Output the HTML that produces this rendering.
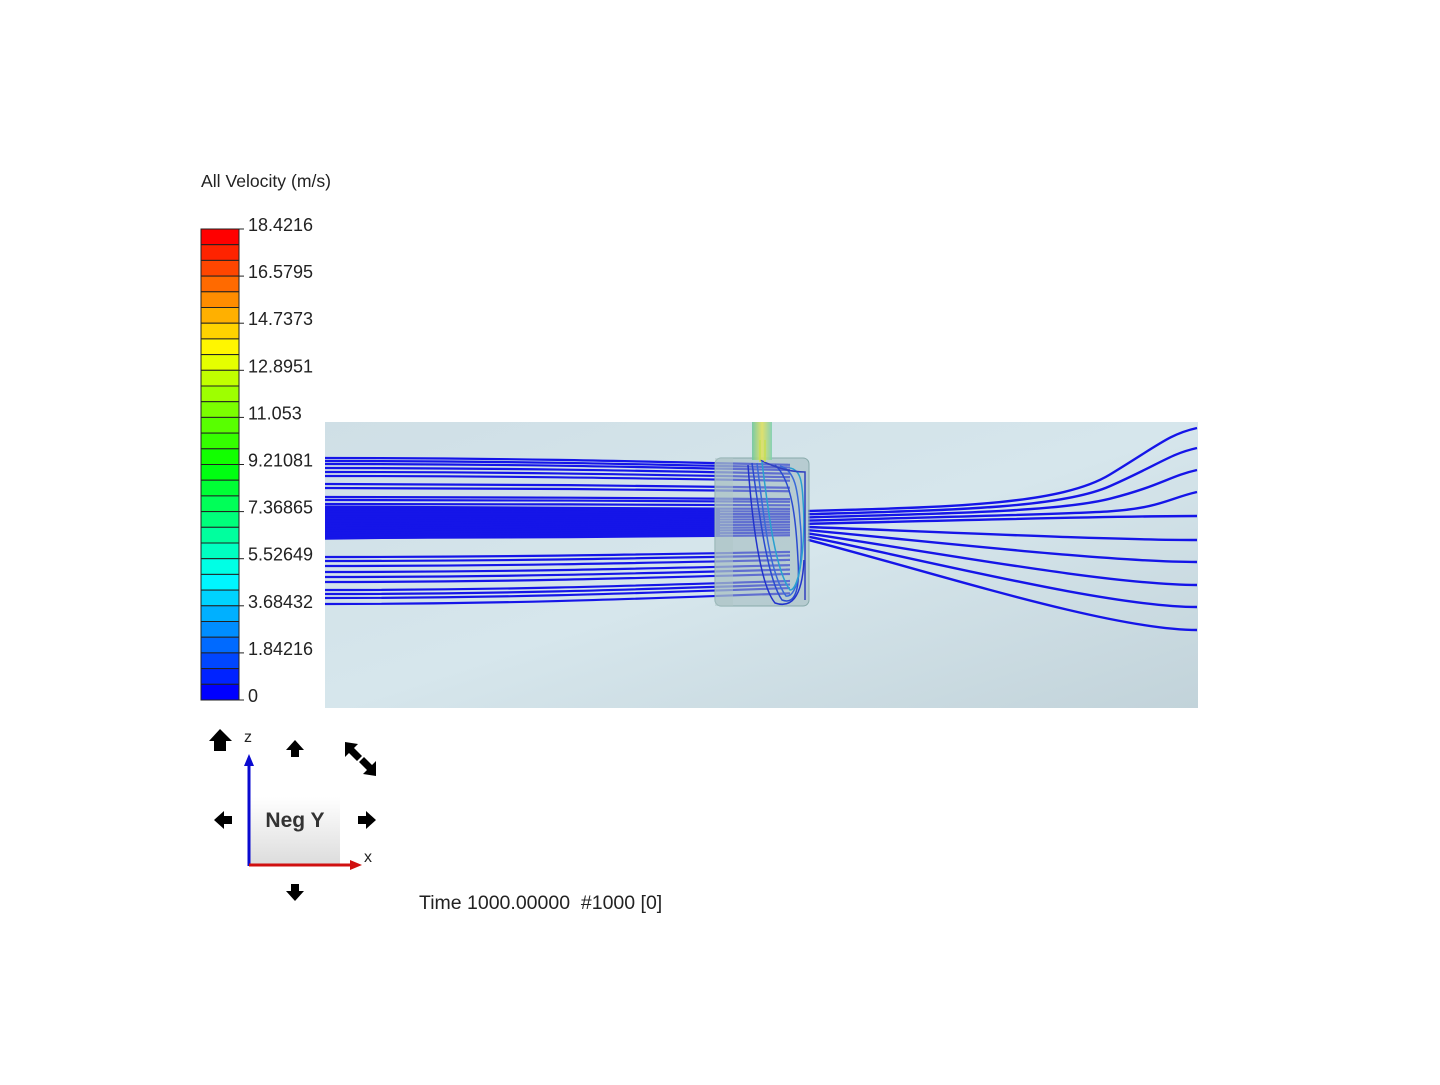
<!DOCTYPE html>
<html><head><meta charset="utf-8"><style>
html,body{margin:0;padding:0;background:#fff;}
body{width:1440px;height:1080px;overflow:hidden;font-family:"Liberation Sans",Arial,sans-serif;}
</style></head><body>
<svg width="1440" height="1080" viewBox="0 0 1440 1080" xmlns="http://www.w3.org/2000/svg" font-family="Liberation Sans, Arial, sans-serif">
<defs>
<linearGradient id="bg" x1="0" y1="0" x2="1" y2="1">
<stop offset="0" stop-color="#cfdfe6"/><stop offset="0.5" stop-color="#d6e6ec"/><stop offset="1" stop-color="#c2d3da"/>
</linearGradient>
<linearGradient id="sq" x1="0" y1="0" x2="0" y2="1">
<stop offset="0" stop-color="#ffffff"/><stop offset="1" stop-color="#dcdcdc"/>
</linearGradient>
<linearGradient id="stem" x1="0" y1="0" x2="1" y2="0">
<stop offset="0" stop-color="#6fc7a0"/><stop offset="0.5" stop-color="#e0e060"/><stop offset="1" stop-color="#7fcfb0"/>
</linearGradient>
</defs>
<text x="201" y="187" font-size="17.6" fill="#222">All Velocity (m/s)</text>
<g id="bar"></g>
<rect x="325" y="422" width="873" height="286" fill="url(#bg)"/>
<g fill="none" stroke="#1515e8" stroke-width="2.2" id="lines"></g>
<rect x="715" y="458" width="94" height="148" rx="6" fill="#9fb8bb" fill-opacity="0.55" stroke="#8aa" stroke-width="1"/>
<rect x="715" y="458" width="18" height="148" fill="#b0c6c8" fill-opacity="0.5"/>
<rect x="752" y="422" width="20" height="38" fill="url(#stem)" opacity="0.9"/>
<g fill="none" stroke-width="1.5">
<path d="M752 463 C760 520 768 580 782 600 C795 605 800 590 798 560 C796 520 792 480 775 465" stroke="#2a4bd0"/>
<path d="M757 463 C764 520 770 575 786 596 C798 598 804 560 800 520 C798 490 795 470 780 466" stroke="#3a6ad8"/>
<path d="M762 462 C768 510 775 570 790 590 C800 590 806 540 803 500 C802 480 800 470 790 468" stroke="#2aa0d0"/>
<path d="M748 465 C752 520 760 585 775 603 C790 608 802 600 804 560" stroke="#2233cc"/>
<path d="M760 460 C780 470 795 472 805 472 L805 600" stroke="#3040c0"/>
<path d="M765 440 L765 462 M760 440 L760 462" stroke="#c8e050"/>
</g>
<rect x="250" y="797" width="90" height="68" fill="url(#sq)"/>
<text x="295" y="827" font-size="21" font-weight="bold" fill="#333" text-anchor="middle">Neg Y</text>
<line x1="249" y1="866" x2="249" y2="762" stroke="#0a0ad0" stroke-width="3"/>
<polygon points="244,766 254,766 249,754" fill="#0a0ad0"/>
<line x1="249" y1="865" x2="352" y2="865" stroke="#d01010" stroke-width="3"/>
<polygon points="350,860 350,870 362,865" fill="#d01010"/>
<text x="244" y="742" font-size="16" fill="#222">z</text>
<text x="364" y="862" font-size="16" fill="#222">x</text>
<g fill="#000">
<polygon points="220,729 209,741 214,741 214,751 226,751 226,741 232,741"/>
<polygon points="295,740 286,750 291,750 291,757 299,757 299,750 304,750"/>
<polygon points="295,901 286,891 291,891 291,884 299,884 299,891 304,891"/>
<polygon points="214,820 224,811 224,816 232,816 232,824 224,824 224,829"/>
<polygon points="376,820 366,811 366,816 358,816 358,824 366,824 366,829"/>
<polygon points="345,742 358,744 354,748 362,756 357,761 349,753 345,757"/>
<polygon points="376,776 363,774 367,770 359,762 364,757 372,765 376,761"/>
</g>
<text x="419" y="909" font-size="19.5" fill="#222">Time 1000.00000&#160; #1000 [0]</text>
</svg>
<script>
(function(){
var ns="http://www.w3.org/2000/svg";
var bar=document.getElementById('bar');
var labels=["18.4216","16.5795","14.7373","12.8951","11.053","9.21081","7.36865","5.52649","3.68432","1.84216","0"];
var barTop=229,h=471/30;
for(var i=0;i<30;i++){var r=document.createElementNS(ns,'rect');r.setAttribute('x',201);r.setAttribute('y',barTop+i*h);r.setAttribute('width',38);r.setAttribute('height',h);
r.setAttribute('fill','hsl('+(i*240/29)+',100%,50%)');r.setAttribute('stroke','#222');r.setAttribute('stroke-width','1');bar.appendChild(r);}
for(var j=0;j<11;j++){var y=barTop+j*47.1;var l=document.createElementNS(ns,'line');l.setAttribute('x1',239);l.setAttribute('x2',244);l.setAttribute('y1',y);l.setAttribute('y2',y);l.setAttribute('stroke','#222');bar.appendChild(l);
var t=document.createElementNS(ns,'text');t.setAttribute('x',248);t.setAttribute('y',y+2);t.setAttribute('font-size','18');t.setAttribute('fill','#222');t.textContent=labels[j];bar.appendChild(t);}
var g=document.getElementById('lines');
function p(d,w){var e=document.createElementNS(ns,'path');e.setAttribute('d',d);if(w)e.setAttribute('stroke-width',w);g.appendChild(e);}
var L=[458,461,464,468,472,476,484,488,497,500,504,508,511,514,517,520,523,526,529,532,535,538,557,561,566,572,577,582,590,594,598,604];
L.forEach(function(y){var ye=515+(y-515)*0.88;p('M325 '+y+' C500 '+y+' 620 '+(515+(y-515)*0.95)+' 790 '+ye);});
for(var k=0;k<14;k++){p('M325 '+(507+k*2.4)+' L720 '+(509+k*1.9),3);}
var E=[428,448,470,492,516,540,562,585,607,630];
E.forEach(function(e,i){var S=511+i*3.2;var d;
 if(e<S-10){d='M808 '+S+' C950 '+(S-4)+' 1060 '+(S-6)+' 1110 '+((S+e)/2+5)+' S1170 '+(e+6)+' 1197 '+e;}
 else {d='M808 '+S+' C930 '+(S+(e-S)*0.35)+' 1110 '+e+' 1197 '+e;}
 p(d,2.4);});
})();
</script>
</body></html>
